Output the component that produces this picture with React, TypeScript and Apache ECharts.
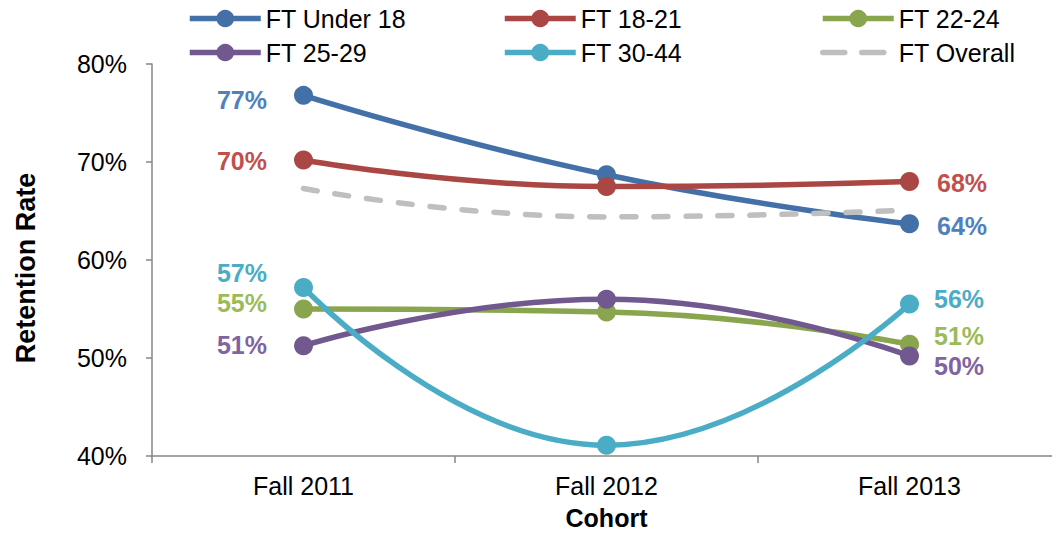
import { useEffect, useRef } from 'react';
import * as echarts from 'echarts';

// Retention rate (%) by cohort for each full-time age group
const cohorts = ['Fall 2011', 'Fall 2012', 'Fall 2013'];
const ftUnder18 = [76.8, 68.7, 63.7];
const ft18to21 = [70.2, 67.5, 68.0];
const ft22to24 = [55.0, 54.7, 51.4];
const ft25to29 = [51.25, 56.0, 50.2];
const ft30to44 = [57.2, 41.1, 55.5];
const ftOverall = [67.3, 64.4, 65.1];

const yMin = 40;
const yMax = 80;
const yStep = 10;

const FONT = 'Arial, "Liberation Sans", sans-serif';

// Value labels sit at both ends of each line: left of the first point, right of the last one
function withEndLabels(values: number[], leftDy: number, rightDy: number, rightDx = 0) {
  const last = values.length - 1;
  return values.map((v, i) => {
    if (i === 0) {
      return { value: v, label: { show: true, position: 'left', distance: 27, offset: [0, leftDy] } };
    }
    if (i === last) {
      return { value: v, label: { show: true, position: 'right', distance: 15, offset: [rightDx, rightDy] } };
    }
    return { value: v };
  });
}

function groupSeries(name: string, values: number[], lineColor: string, labelColor: string, leftDy: number, rightDy: number, rightDx = 0) {
  return {
    name,
    type: 'line',
    smooth: true,
    symbol: 'circle',
    symbolSize: 19,
    showSymbol: true,
    lineStyle: { width: 5.5, color: lineColor },
    itemStyle: { color: lineColor },
    label: {
      show: false,
      color: labelColor,
      fontFamily: FONT,
      fontSize: 25,
      fontWeight: 'bold',
      lineHeight: 22,
      formatter: (p: any) => Math.round(p.value) + '%',
    },
    emphasis: { disabled: true },
    data: withEndLabels(values, leftDy, rightDy, rightDx),
  };
}

export default function App() {
  const ref = useRef<HTMLDivElement>(null);

  useEffect(() => {
    if (!ref.current) return;
    const chart = echarts.init(ref.current, null, { renderer: 'svg' });

    const legendBase = {
      orient: 'vertical',
      top: 6,
      itemWidth: 71,
      itemHeight: 22,
      itemGap: 9,
      padding: 0,
      selectedMode: false,
      lineStyle: { width: 5.5 },
      textStyle: { fontFamily: FONT, fontSize: 25, color: '#000' },
    };

    chart.setOption({
      animation: false,
      backgroundColor: '#fff',
      legend: [
        { ...legendBase, left: 187, data: ['FT Under 18', 'FT 25-29'] },
        { ...legendBase, left: 502, data: ['FT 18-21', 'FT 30-44'] },
        {
          ...legendBase,
          left: 820,
          data: [
            'FT 22-24',
            {
              name: 'FT Overall',
              itemStyle: { color: 'rgba(0,0,0,0)', borderWidth: 0 },
              lineStyle: { type: [22, 17], cap: 'round', width: 5.5, color: '#BFBFBF' },
            },
          ],
        },
      ],
      grid: { left: 152, top: 64, bottom: 77, width: 909, outerBoundsMode: 'none', containLabel: false },
      xAxis: {
        type: 'category',
        data: cohorts,
        boundaryGap: true,
        name: 'Cohort',
        nameLocation: 'middle',
        nameGap: 50,
        nameTextStyle: { fontFamily: FONT, fontSize: 25, fontWeight: 'bold', color: '#000', lineHeight: 24 },
        axisLine: { lineStyle: { color: '#868686', width: 1.5 } },
        axisTick: { show: true, length: 7, alignWithLabel: false, lineStyle: { color: '#868686', width: 1.5 } },
        axisLabel: { fontFamily: FONT, fontSize: 25, color: '#000', margin: 17 },
        splitLine: { show: false },
      },
      yAxis: {
        type: 'value',
        min: yMin,
        max: yMax,
        interval: yStep,
        name: 'Retention Rate',
        nameLocation: 'middle',
        nameGap: 113,
        nameTextStyle: { fontFamily: FONT, fontSize: 27, fontWeight: 'bold', color: '#000', padding: [0, 16, 0, 0] },
        axisLine: { show: true, lineStyle: { color: '#868686', width: 1.5 } },
        axisTick: { show: true, length: 6, lineStyle: { color: '#868686', width: 1.5 } },
        axisLabel: { fontFamily: FONT, fontSize: 25, color: '#000', margin: 25, formatter: '{value}%' },
        splitLine: { show: false },
      },
      series: [
        groupSeries('FT Under 18', ftUnder18, '#4470A8', '#4F81BD', 5, 2, 3),
        groupSeries('FT 18-21', ft18to21, '#AA4643', '#C0504D', 1, 1, 3),
        groupSeries('FT 22-24', ft22to24, '#89A54E', '#9BBB59', -6, -8),
        groupSeries('FT 25-29', ft25to29, '#71588F', '#8064A2', -1, 10),
        groupSeries('FT 30-44', ft30to44, '#4BACC6', '#4BACC6', -14, -5),
        {
          name: 'FT Overall',
          type: 'line',
          smooth: true,
          symbol: 'none',
          lineStyle: { width: 5.5, color: '#BFBFBF', type: [14, 18], cap: 'round' },
          itemStyle: { color: '#BFBFBF' },
          emphasis: { disabled: true },
          data: ftOverall,
        },
      ],
    });

    return () => chart.dispose();
  }, []);

  return (
    <div
      ref={ref}
      style={{ position: 'absolute', left: 0, top: 0, width: 1052, height: 533 }}
    />
  );
}
